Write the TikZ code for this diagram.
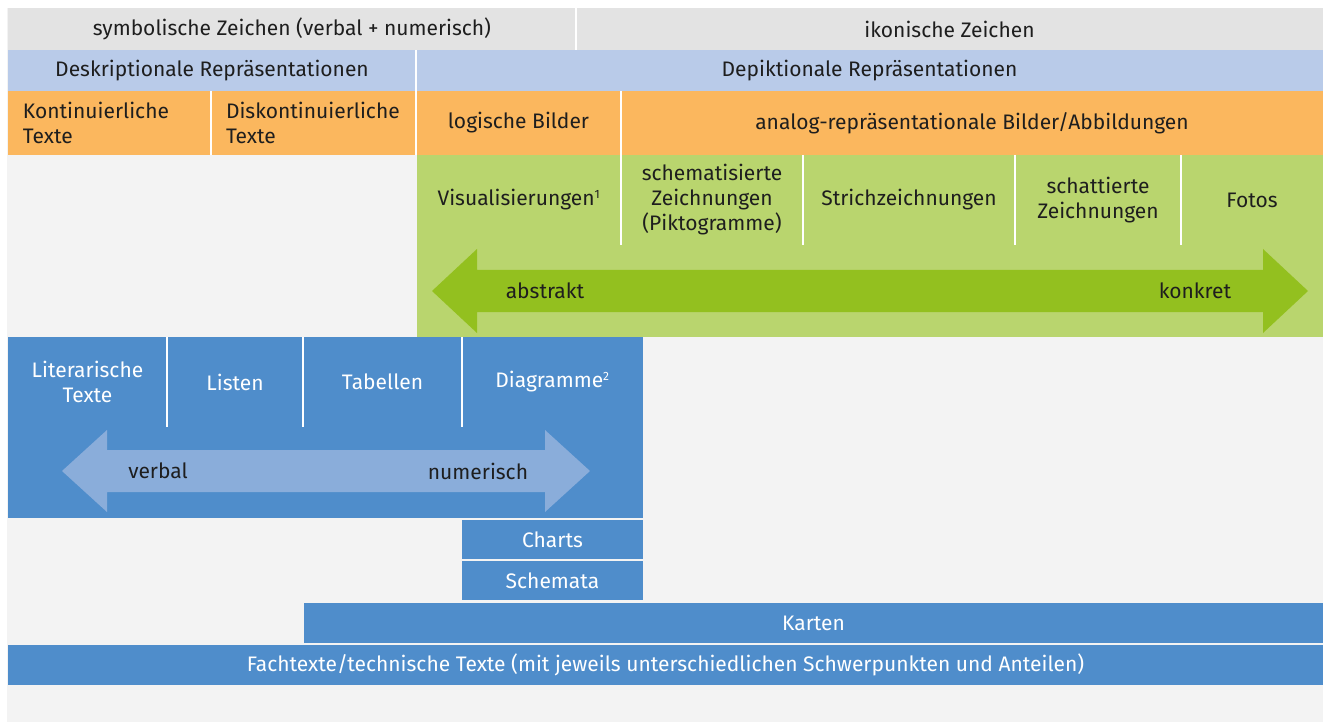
\documentclass[tikz,border=0pt]{standalone}
\usepackage{fontspec}
\setmainfont{Fira Sans}
\usetikzlibrary{calc}
\definecolor{grauzeile}{HTML}{E3E3E3}
\definecolor{hellblau}{HTML}{B9CBE9}
\definecolor{orangezelle}{HTML}{FBB75E}
\definecolor{hellgruen}{HTML}{B9D56E}
\definecolor{pfeilgruen}{HTML}{93C01F}
\definecolor{blauzelle}{HTML}{4F8DCB}
\definecolor{pfeilblau}{HTML}{8AADDA}
\definecolor{hintergrund}{HTML}{F3F3F3}
\definecolor{schrift}{HTML}{1E1E1E}
\def\sup(#1){\textsuperscript{\fontsize{12}{12}\selectfont #1}}
\tikzset{
  zelle/.style={anchor=north west, inner sep=0pt, outer sep=0pt, align=center, text=schrift, font=\fontsize{21}{25}\selectfont},
  wzelle/.style={zelle, text=white},
  links/.style={align=left, inner xsep=15pt},
  trenner/.style={white, line width=2pt},
}

\begin{document}
\begin{tikzpicture}[x=1pt,y=-1pt]
\useasboundingbox (0,0) rectangle (1326,722);
\fill[hintergrund] (7,8) rectangle (1323,722);

% obere Zeilen
\node (sym) at (8,8) [zelle, fill=grauzeile, minimum width=568pt, minimum height=42pt] {symbolische Zeichen (verbal + numerisch)};
\node (ikon) at (576,8) [zelle, fill=grauzeile, minimum width=747pt, minimum height=42pt] {ikonische Zeichen};
\node (desk) at (8,50) [zelle, fill=hellblau, minimum width=408pt, minimum height=41pt] {Deskriptionale Repräsentationen};
\node (depi) at (416,50) [zelle, fill=hellblau, minimum width=907pt, minimum height=41pt] {Depiktionale Repräsentationen};
\node (kont) at (8,91) [zelle, links, fill=orangezelle, text width=173pt, minimum height=64pt] {Kontinuierliche\\Texte};
\node (disk) at (211,91) [zelle, links, fill=orangezelle, text width=175pt, minimum height=64pt] {Diskontinuierliche\\Texte};
\node (logi) at (416,91) [zelle, fill=orangezelle, minimum width=205pt, minimum height=64pt] {logische Bilder};
\node (analog) at (621,91) [zelle, fill=orangezelle, minimum width=702pt, minimum height=64pt] {analog-repräsentationale Bilder/Abbildungen};

% gruener Block
\node (gruen) at (417,155) [zelle, fill=hellgruen, minimum width=906pt, minimum height=182pt] {};
\node (visu) at (417,155) [zelle, minimum width=204pt, minimum height=90pt] {Visualisierungen\sup(1)};
\node (schem) at (621,155) [zelle, minimum width=182pt, minimum height=90pt] {schematisierte\\Zeichnungen\\(Piktogramme)};
\node (strich) at (803,155) [zelle, minimum width=212pt, minimum height=90pt] {Strichzeichnungen};
\node (schatt) at (1015,155) [zelle, minimum width=166pt, minimum height=90pt] {schattierte\\Zeichnungen};
\node (fotos) at (1181,155) [zelle, minimum width=142pt, minimum height=90pt] {Fotos};

\fill[pfeilgruen] (432,291) -- (477,249) -- (477,270) -- (1263,270) -- (1263,249) -- (1308,291)
  -- (1263,333) -- (1263,312) -- (477,312) -- (477,333) -- cycle;
\node (abstrakt) at (545,291) [zelle, anchor=center] {abstrakt};
\node (konkret) at (1195,291) [zelle, anchor=center] {konkret};

% blauer Block
\node (blau) at (8,337) [zelle, fill=blauzelle, minimum width=635pt, minimum height=181pt] {};
\node (lit) at (8,337) [wzelle, minimum width=159pt, minimum height=90pt] {Literarische\\Texte};
\node (listen) at (167,337) [wzelle, minimum width=136pt, minimum height=90pt] {Listen};
\node (tab) at (303,337) [wzelle, minimum width=159pt, minimum height=90pt] {Tabellen};
\node (diag) at (462,337) [wzelle, minimum width=181pt, minimum height=90pt] {Diagramme\sup(2)};

\fill[pfeilblau] (62,471) -- (107,430) -- (107,450) -- (545,450) -- (545,430) -- (590,471)
  -- (545,512) -- (545,492) -- (107,492) -- (107,512) -- cycle;
\node (verbal) at (158,471) [zelle, anchor=center] {verbal};
\node (numerisch) at (478,471) [zelle, anchor=center] {numerisch};

\node (charts) at (462,520) [wzelle, fill=blauzelle, minimum width=181pt, minimum height=39pt] {Charts};
\node (schemata) at (462,561) [wzelle, fill=blauzelle, minimum width=181pt, minimum height=39pt] {Schemata};
\node (karten) at (304,603) [wzelle, fill=blauzelle, minimum width=1019pt, minimum height=40pt] {Karten};
\node (fach) at (8,645) [wzelle, fill=blauzelle, minimum width=1315pt, minimum height=40pt] {Fachtexte/technische Texte (mit jeweils unterschiedlichen Schwerpunkten und Anteilen)};

% Trennlinien
\draw[trenner] (sym.north east) -- (sym.south east);
\draw[trenner] (desk.north east) -- (disk.south east);
\draw[trenner] (kont.north east) -- (kont.south east);
\draw[trenner] (logi.north east) -- (logi.south east);
\draw[trenner] (visu.north east) -- (visu.south east);
\draw[trenner] (schem.north east) -- (schem.south east);
\draw[trenner] (strich.north east) -- (strich.south east);
\draw[trenner] (schatt.north east) -- (schatt.south east);
\draw[trenner] (lit.north east) -- (lit.south east);
\draw[trenner] (listen.north east) -- (listen.south east);
\draw[trenner] (tab.north east) -- (tab.south east);
\end{tikzpicture}
\end{document}
